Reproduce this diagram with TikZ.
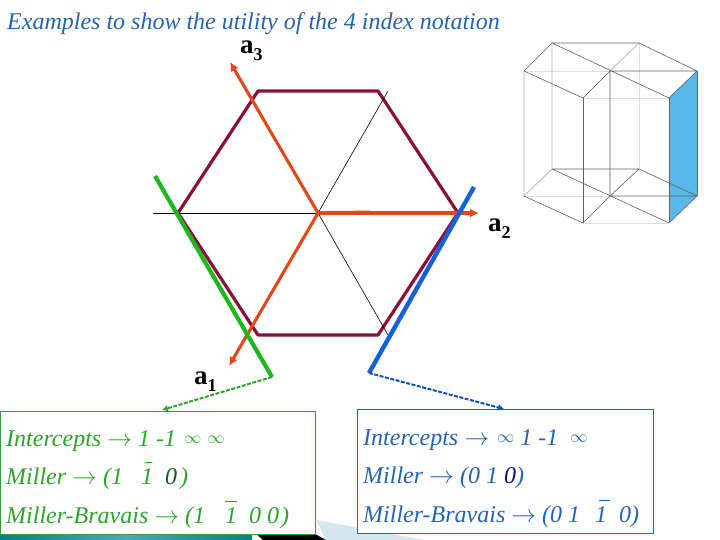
\documentclass[tikz,border=0pt]{standalone}
\usepackage{fontspec}
\setmainfont{Liberation Serif}
\usetikzlibrary{arrows.meta}
\definecolor{hexc}{HTML}{8A1038}
\definecolor{axisc}{HTML}{E2481A}
\definecolor{greenl}{HTML}{1DB81D}
\definecolor{bluel}{HTML}{1560E0}
\definecolor{greent}{HTML}{2BA52B}
\definecolor{bluet}{HTML}{2464B4}
\definecolor{greend}{HTML}{0F5F14}
\definecolor{blued}{HTML}{10107A}
\definecolor{facec}{HTML}{58B8EC}
\definecolor{wedgec}{HTML}{D5E6EF}
\definecolor{banda}{HTML}{0A7F88}
\definecolor{bandb}{HTML}{4AA8BB}
\newcommand{\ob}[2]{\rlap{\kern#1pt\raisebox{21.5pt}{\rule{#2pt}{0.9pt}}}1}
\newcommand{\inft}{\raisebox{2.5pt}{\upshape\fontsize{17}{17}\selectfont$\infty$}}
\newcommand{\arw}{{\upshape$\rightarrow$}}
\newcommand{\subn}[1]{\raisebox{-7pt}{\fontsize{18}{18}\selectfont #1}}
\tikzset{
  hexline/.style={draw=hexc,line width=3.2pt,line join=round},
  thinline/.style={draw=black,line width=0.6pt},
  axisline/.style={draw=axisc,line width=3.1pt,-{Latex[length=9pt,width=9pt]}},
  planeg/.style={draw=greenl,line width=4.2pt},
  planeb/.style={draw=bluel,line width=4.4pt},
  leaderg/.style={draw=greent,line width=2pt,dash pattern=on 4pt off 1.5pt,-{Latex[length=6pt,width=7pt]}},
  leaderb/.style={draw=bluel!85!black,line width=2pt,dash pattern=on 4pt off 1.5pt,-{Latex[length=6pt,width=7pt]}},
  infobox/.style={draw,line width=0.9pt,fill=white,inner sep=0pt},
  rowtext/.style={anchor=base west,inner sep=0pt,font=\fontsize{24}{26}\selectfont\itshape},
  axislabel/.style={anchor=base west,inner sep=0pt,font=\fontsize{27}{28}\selectfont\bfseries},
  xedge/.style={draw=black!62,line width=0.6pt},
  xback/.style={draw=black!30,line width=0.7pt},
  xfaint/.style={draw=black!13,line width=0.7pt},
}
\begin{document}
\begin{tikzpicture}[x=1pt,y=-1pt]
\useasboundingbox (0,0) rectangle (720,540);
\fill[white] (0,0) rectangle (720,540);
% bottom band
\fill[wedgec] (316,520) -- (425,540) -- (326,540) -- cycle;
\fill[black] (257,534.5) -- (316,534.5) -- (326,540) -- (263,540) -- cycle;
\shade[left color=banda,right color=banda,middle color=bandb] (0,535) rectangle (252,540);
% title
\node[rowtext,text=bluet] (title) at (7,30) {Examples to show the utility of the 4 index notation};
% hexagon
\coordinate (O) at (318,213);
\coordinate (h1) at (258,91);
\coordinate (h2) at (378,91);
\coordinate (h3) at (458,213);
\coordinate (h4) at (378,335);
\coordinate (h5) at (258,335);
\coordinate (h6) at (178,213);
\coordinate (lw) at (153,213);
\coordinate (ln) at (388,91);
\coordinate (ls) at (388,335);
\draw[hexline] (h1) -- (h2) -- (h3) -- (h4) -- (h5) -- (h6) -- cycle;
\draw[thinline] (lw) -- (O);
\draw[thinline] (O) -- (ln);
\draw[thinline] (O) -- (ls);
% axes
\coordinate (e1) at (229,366);
\coordinate (e2) at (479,213);
\coordinate (e3) at (230,62);
\coordinate (e2m) at (370,212.5);
\draw[axisline] (O) -- (e3);
\draw[axisline] (O) -- (e1);
\draw[axisline] (O) -- (e2);
\draw[draw=axisc,line width=3.8pt] (O) -- (e2m);
% planes
\coordinate (g1) at (155,176);
\coordinate (g2) at (272,377);
\coordinate (b1) at (474,187);
\coordinate (b2) at (369,373);
\draw[planeg] (g1) -- (g2);
\draw[planeb] (b1) -- (b2);
% boxes
\node[infobox,draw=greent,anchor=north west,minimum width=315pt,minimum height=123pt] (gbox) at (0,411) {};
\node[infobox,draw=bluet,anchor=north west,minimum width=296pt,minimum height=124pt] (bbox) at (357,409) {};
\coordinate (gt) at (162,410);
\coordinate (bt) at (504,409);
\draw[leaderg] (g2) -- (gt);
\draw[leaderb] (b2) -- (bt);
% axis labels
\node[axislabel] (a3) at (240,54) {a\subn{3}};
\node[axislabel] (a2) at (488,232) {a\subn{2}};
\node[axislabel] (a1) at (194,384) {a\subn{1}};
% green text
\node[rowtext,text=greent] (g1t) at (6,446) {Intercepts~\arw~1~-1~\hspace{2pt}\inft~\inft};
\node[rowtext,text=greent] (g2t) at (6,484) {Miller~\arw~(1~~~\ob{4}{7}~~\textcolor{greend}{0}\hspace{3pt})};
\node[rowtext,text=greent] (g3t) at (6,523) {Miller-Bravais~\arw~(1~~~\hspace{2pt}\ob{0}{12}~~0~0\hspace{2pt})};
% blue text
\node[rowtext,text=bluet] (b1t) at (363,445) {Intercepts~\arw~\hspace{2pt}\inft~1~-1~~\inft};
\node[rowtext,text=bluet] (b2t) at (363,483) {Miller~\arw~(0~1~\textcolor{blued}{0})};
\node[rowtext,text=bluet] (b3t) at (363,522) {Miller-Bravais~\arw~(0~1~~\hspace{3pt}\ob{4}{11}~~0)};
% crystal
\coordinate (A) at (552,43); \coordinate (B) at (639,43);
\coordinate (C) at (524,71); \coordinate (D) at (610,71); \coordinate (E) at (697,71);
\coordinate (F) at (583,98); \coordinate (G) at (669,98);
\coordinate (Ap) at (552,169); \coordinate (Bp) at (639,169);
\coordinate (Cp) at (524,196); \coordinate (Dp) at (610,196); \coordinate (Ep) at (697,196);
\coordinate (Fp) at (583,223); \coordinate (Gp) at (669,223);
\fill[facec] (G) -- (E) -- (Ep) -- (Gp) -- cycle;
\draw[xfaint] (C) -- (D) (Cp) -- (Dp) (F) -- (G) (Fp) -- (Gp) (B) -- (Bp);
\draw[xback] (A) -- (Ap) (Ap) -- (Cp) (B) -- (D) (C) -- (Cp);
\draw[xedge] (A) -- (B) (A) -- (C) (A) -- (G) (C) -- (F) (B) -- (E) (D) -- (F) (D) -- (E) (E) -- (G) (D) -- (Dp);
\draw[xedge] (F) -- (Fp) (G) -- (Gp) (E) -- (Ep);
\draw[xedge] (Ap) -- (Bp) (Ap) -- (Gp) (Cp) -- (Fp) (Bp) -- (Ep) (Bp) -- (Dp) (Dp) -- (Fp) (Dp) -- (Ep) (Ep) -- (Gp);
\end{tikzpicture}
\end{document}
